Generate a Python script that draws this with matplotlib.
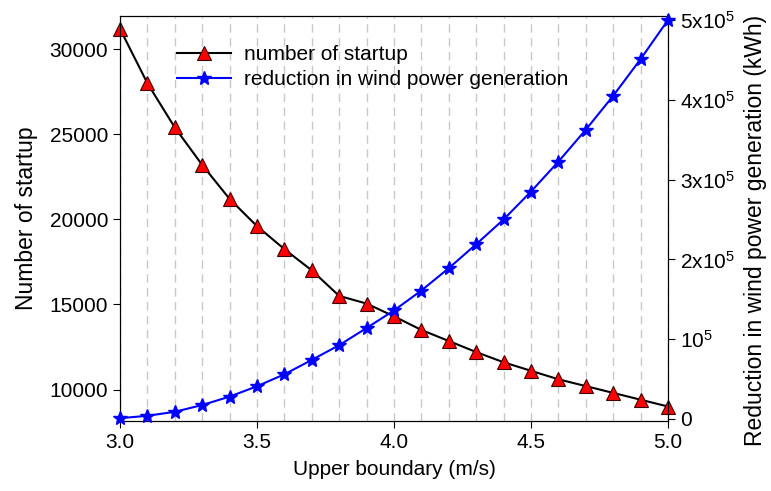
"""
Startups vs. lost wind generation over the upper boundary
"""
import numpy as np
import matplotlib
matplotlib.use("Agg")
import matplotlib.pyplot as plt

plt.rcParams['font.family'] = ['Liberation Sans', 'DejaVu Sans']
plt.rcParams['mathtext.fontset'] = 'custom'
plt.rcParams['mathtext.rm'] = 'Liberation Sans'
plt.rcParams['mathtext.it'] = 'Liberation Sans'

# data
upper_boundary = [3.0, 3.1, 3.2, 3.3, 3.4, 3.5, 3.6, 3.7, 3.8, 3.9, 4.0,
                  4.1, 4.2, 4.3, 4.4, 4.5, 4.6, 4.7, 4.8, 4.9, 5.0]
startups = [31200, 28000, 25400, 23200, 21200, 19600, 18250, 17000, 15500,
            15050, 14300, 13500, 12850, 12200, 11600, 11100, 10600, 10200,
            9800, 9400, 9000]
reduction = [1000, 4000, 9000, 17500, 28000, 41000, 56000, 74000, 92500,
             114000, 136000, 161000, 189000, 219000, 250000, 285000, 322500,
             362500, 405000, 451000, 500000]

right_ticks = [0, 1e5, 2e5, 3e5, 4e5, 5e5]
right_ticklabels = ['0', '10$^5$', '2x10$^5$', '3x10$^5$', '4x10$^5$', '5x10$^5$']

fs = 15
fs_v = 16.5  # vertical labels look a bit bigger in the original
fig = plt.figure(figsize=(7.71, 4.91), dpi=100)
ax = fig.add_axes([0.1556, 0.1426, 0.7108, 0.8248])
ax2 = ax.twinx()

l1, = ax.plot(upper_boundary, startups, color='black', lw=1.5, marker='^',
              markersize=9.5, markerfacecolor='red', markeredgecolor='#400000',
              markeredgewidth=0.8, label='number of startup', zorder=3,
              clip_on=False)
l2, = ax2.plot(upper_boundary, reduction, color='blue', lw=1.5, marker='*',
               markersize=10, markerfacecolor='blue', markeredgecolor='blue',
               label='reduction in wind power generation', zorder=3,
               clip_on=False)

ax.set_xlim(3.0, 5.0)
ax.set_ylim(8150, 31950)
ax2.set_ylim(-2500, 5.05e5)

ax.set_xticks([3.0, 3.5, 4.0, 4.5, 5.0])
ax.set_xticklabels(['3.0', '3.5', '4.0', '4.5', '5.0'])
ax.set_xticks(np.arange(3.1, 5.0, 0.1), minor=True)
ax.set_yticks([10000, 15000, 20000, 25000, 30000])
ax2.set_yticks(right_ticks)
ax2.set_yticklabels(right_ticklabels)

ax.grid(True, which='both', axis='x', color='#c8c8c8', linestyle=(0, (6, 4)), lw=1.0)
ax.set_axisbelow(True)
ax.tick_params(which='minor', length=0)
ax.tick_params(which='major', direction='out', length=5, labelsize=fs, color='black')
ax2.tick_params(direction='out', length=5, labelsize=fs)

ax.set_xlabel('Upper boundary (m/s)', fontsize=fs, labelpad=6)
ax.set_ylabel('Number of startup', fontsize=fs_v, labelpad=8)
ax2.set_ylabel('Reduction in wind power generation (kWh)', fontsize=fs_v, labelpad=8)
ax2.yaxis.set_label_coords(1.139, 0.47)

ax2.legend([l1, l2], [l1.get_label(), l2.get_label()], loc='upper left',
           bbox_to_anchor=(0.07, 0.975), frameon=False, fontsize=fs,
           handlelength=2.6, handletextpad=0.6, labelspacing=0.3)

fig.savefig('out.png', dpi=100)
